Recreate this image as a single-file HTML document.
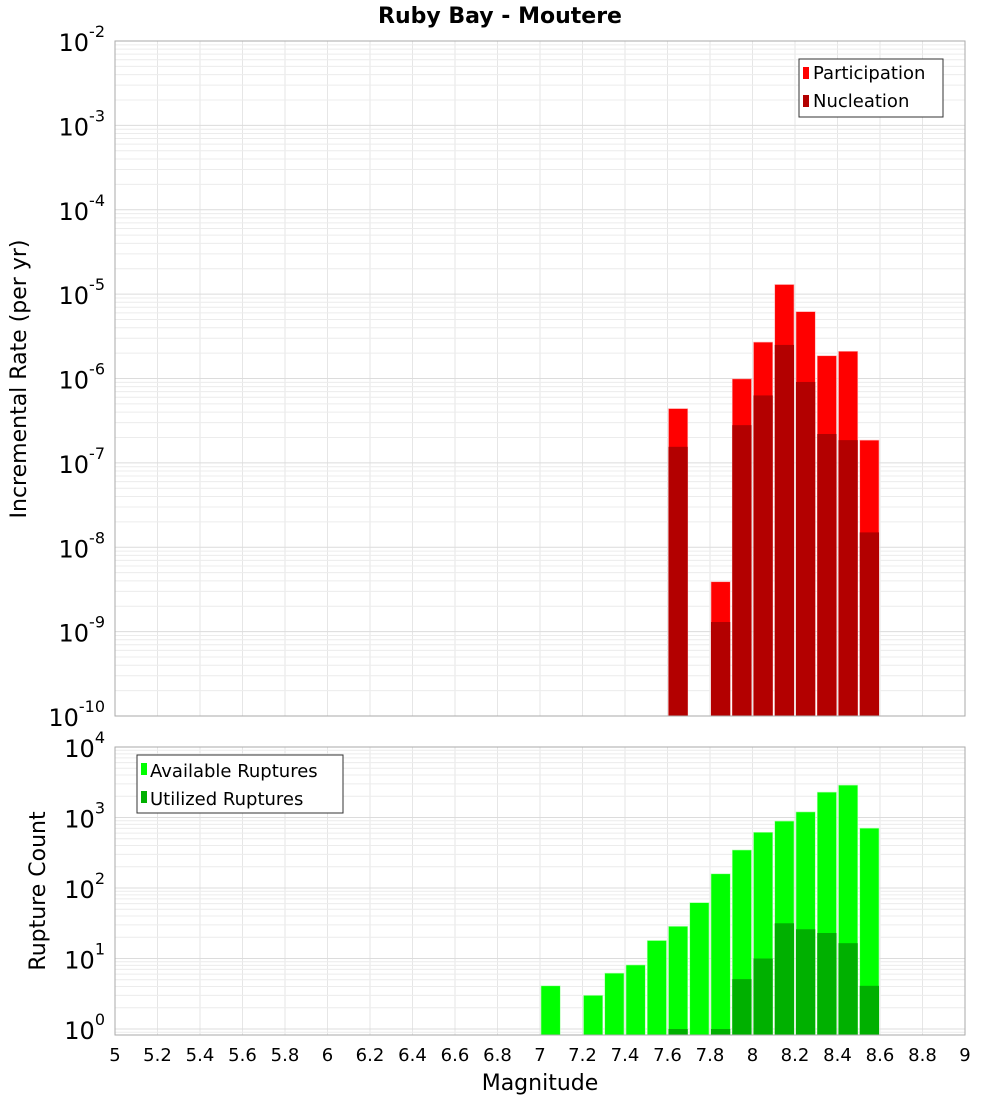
<!DOCTYPE html>
<html><head><meta charset="utf-8"><style>
body{margin:0;background:#fff;}
svg{display:block;font-family:"DejaVu Sans","Liberation Sans",sans-serif;}
</style></head><body>
<svg id="chart" width="1000" height="1100" xmlns="http://www.w3.org/2000/svg">
<text x="500" y="23" text-anchor="middle" font-size="22" font-weight="bold">Ruby Bay - Moutere</text>
<g id="top"></g>
<g id="bot"></g>
</svg>
<script>
const bins = [7.0,7.2,7.3,7.4,7.5,7.6,7.7,7.8,7.9,8.0,8.1,8.2,8.3,8.4,8.5];
const rateBins = [7.6,7.8,7.9,8.0,8.1,8.2,8.3,8.4,8.5];
const participation = [4.4e-7,3.9e-9,9.9e-7,2.7e-6,1.3e-5,6.2e-6,1.86e-6,2.1e-6,1.86e-7];
const nucleation = [1.55e-7,1.3e-9,2.8e-7,6.3e-7,2.5e-6,9.1e-7,2.2e-7,1.86e-7,1.5e-8];
const available = [4.1,3.0,6.2,8.1,18,28.6,62,159,346,617,890,1200,2290,2880,706];
const utilized = [0,0,0,0,0,1,0,1,5.1,10,31.6,26,23,16.5,4.1];
const xTicks = [5,5.2,5.4,5.6,5.8,6,6.2,6.4,6.6,6.8,7,7.2,7.4,7.6,7.8,8,8.2,8.4,8.6,8.8,9];
const topExps = [-2,-3,-4,-5,-6,-7,-8,-9,-10];
const botExps = [4,3,2,1,0];

const NS="http://www.w3.org/2000/svg";
const L=115,R=965;
const xs=m=>L+(m-5)/4*(R-L);
function mk(p,tag,at,txt){const e=document.createElementNS(NS,tag);for(const k in at)e.setAttribute(k,at[k]);if(txt!==undefined)e.textContent=txt;p.appendChild(e);return e;}

function panel(g,top,bot,maxE,minLog,name){
  const ys=v=>top+(maxE-Math.log10(v))/(maxE-minLog)*(bot-top);
  // grid
  for(const t of xTicks){const l=mk(g,'line',{x1:xs(t),x2:xs(t),y1:top,y2:bot,stroke:'#e6e6e6','stroke-width':1});
    }
  for(let e=Math.floor(minLog);e<maxE;e++){for(let k=1;k<10;k++){const v=k*Math.pow(10,e);const y=ys(v);if(y<top-0.1||y>bot+0.1)continue;
    const l=mk(g,'line',{x1:L,x2:R,y1:y,y2:y,stroke:k==1?'#dcdcdc':'#ececec','stroke-width':1});
    }}
  mk(g,'line',{x1:L,x2:R,y1:top,y2:top,stroke:'#e0e0e0'});
  return ys;
}
// top panel
const gt=document.getElementById('top');
const T0=41,T1=716;
const yt=panel(gt,T0,T1,-2,-10,'top');
const bw=xs(5.1)-xs(5);
rateBins.forEach((m,i)=>{
  const x=xs(m)+1;
  const p=mk(gt,'rect',{x:x,y:yt(participation[i]),width:bw-2,height:T1-yt(participation[i]),fill:'#ff0000',stroke:'#ffb0b0','stroke-width':0.6});
  
  const n=mk(gt,'rect',{x:x,y:yt(nucleation[i]),width:bw-2,height:T1-yt(nucleation[i]),fill:'#b30000'});
  
});
mk(gt,'rect',{x:L,y:T0,width:R-L,height:T1-T0,fill:'none',stroke:'#aaaaaa','stroke-width':1});
topExps.forEach(e=>{const y=yt(Math.pow(10,e));
  const t=mk(gt,'text',{x:105,y:y+10,'text-anchor':'end','font-size':24});
  
  mk(t,'tspan',{},'10');mk(t,'tspan',{dy:-14,'font-size':16},String(e));
});
{const t=mk(gt,'text',{transform:'translate(26,379) rotate(-90)','text-anchor':'middle','font-size':22},'Incremental Rate (per yr)');
}
// legend top
{const lg=mk(gt,'g',{});
mk(lg,'rect',{x:799,y:59,width:144,height:58,fill:'#fff',stroke:'#333','stroke-width':1});
mk(lg,'rect',{x:803,y:67,width:6,height:12,fill:'#ff0000'});
mk(lg,'text',{x:813,y:79,'font-size':18},'Participation');
mk(lg,'rect',{x:803,y:95,width:6,height:12,fill:'#b30000'});
mk(lg,'text',{x:813,y:107,'font-size':18},'Nucleation');}

// bottom panel
const gb=document.getElementById('bot');
const B0=747,B1=1035;
const yb=panel(gb,B0,B1,4,-0.085,'bot');
bins.forEach((m,i)=>{
  const x=xs(m)+1;
  const a=mk(gb,'rect',{x:x,y:yb(available[i]),width:bw-2,height:B1-yb(available[i]),fill:'#00ff00',stroke:'#b0ffb0','stroke-width':0.6});
  
  if(utilized[i]>0){const u=mk(gb,'rect',{x:x,y:yb(utilized[i]),width:bw-2,height:B1-yb(utilized[i]),fill:'#00b000'});
  }
});
mk(gb,'rect',{x:L,y:B0,width:R-L,height:B1-B0,fill:'none',stroke:'#aaaaaa','stroke-width':1});
botExps.forEach(e=>{const y=yb(Math.pow(10,e));
  const t=mk(gb,'text',{x:105,y:y+10,'text-anchor':'end','font-size':24});
  
  mk(t,'tspan',{},'10');mk(t,'tspan',{dy:-14,'font-size':16},String(e));
});
xTicks.forEach(v=>{const t=mk(gb,'text',{x:xs(v),y:1061,'text-anchor':'middle','font-size':18},String(v));
  });
{const t=mk(gb,'text',{x:540,y:1090,'text-anchor':'middle','font-size':22},'Magnitude');

const t2=mk(gb,'text',{transform:'translate(45,891) rotate(-90)','text-anchor':'middle','font-size':22},'Rupture Count');
}
{const lg=mk(gb,'g',{});
mk(lg,'rect',{x:137,y:755,width:206,height:58,fill:'#fff',stroke:'#333','stroke-width':1});
mk(lg,'rect',{x:141,y:763,width:6,height:12,fill:'#00ff00'});
mk(lg,'text',{x:150,y:777,'font-size':18},'Available Ruptures');
mk(lg,'rect',{x:141,y:791,width:6,height:12,fill:'#00b000'});
mk(lg,'text',{x:150,y:805,'font-size':18},'Utilized Ruptures');}
</script>
</body></html>
